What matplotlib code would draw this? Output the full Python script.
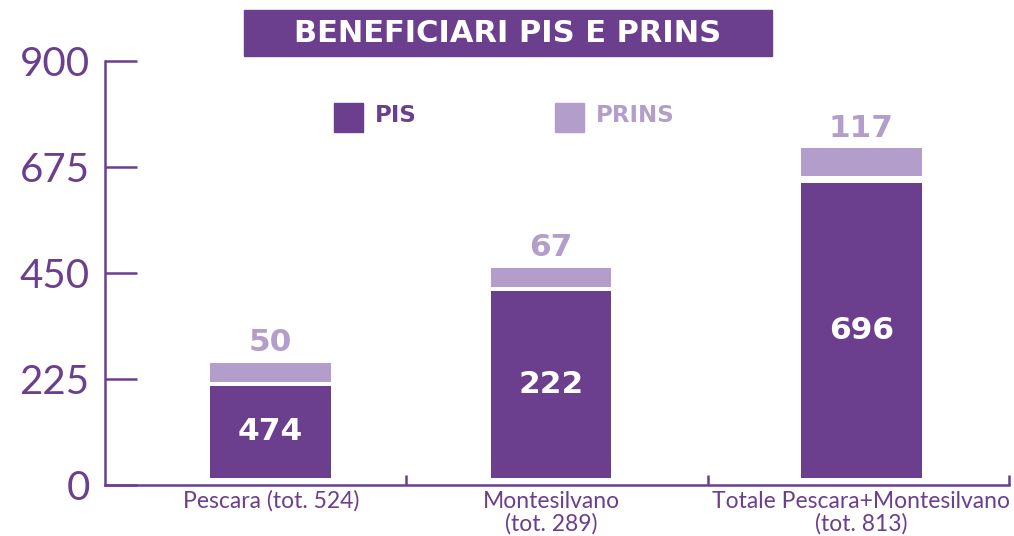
import matplotlib
matplotlib.use('Agg')
import matplotlib.pyplot as plt
from matplotlib.patches import Rectangle

# categories and printed labels
categories = ['Pescara (tot. 524)', 'Montesilvano\n(tot. 289)', 'Totale Pescara+Montesilvano\n(tot. 813)']
pis_labels = ['474', '222', '696']
prins_labels = ['50', '67', '117']

# bar extents as drawn in the picture (y axis units)
bar_base = [15, 15, 15]
pis_top = [210, 412, 641]
prins_base = [219, 420, 656]
prins_top = [259, 461, 715]

yticks = [0, 225, 450, 675, 900]

DARK = '#6c3f8e'
LIGHT = '#b29dcb'
LIGHTFONT = 'Lato'
BOLDFONT = 'DejaVu Sans'

W, H = 1014, 536
fig = plt.figure(figsize=(W / 100, H / 100), dpi=100)

def px(x0, y0, x1, y1):
    # pixel box (top-left origin) -> figure fraction rect
    return [x0 / W, 1 - y1 / H, (x1 - x0) / W, (y1 - y0) / H]

ax = fig.add_axes(px(105, 61, 1009, 485))
xpos = [0.55, 1.48, 2.51]
width = 0.40

pis_h = [t - b for t, b in zip(pis_top, bar_base)]
prins_h = [t - b for t, b in zip(prins_top, prins_base)]
ax.bar(xpos, pis_h, width, bottom=bar_base, color=DARK, linewidth=0)
ax.bar(xpos, prins_h, width, bottom=prins_base, color=LIGHT, linewidth=0)

for x, b, t, lab in zip(xpos, bar_base, pis_top, pis_labels):
    ax.text(x, (b + t) / 2, lab, ha='center', va='center', color='white',
            fontsize=22.5, fontweight='heavy', family=BOLDFONT)
for x, t, lab in zip(xpos, prins_top, prins_labels):
    ax.text(x, t + 12, lab, ha='center', va='bottom', color=LIGHT,
            fontsize=22.5, fontweight='heavy', family=BOLDFONT)

ax.set_xlim(0, 3)
ax.set_ylim(0, 900)
ax.set_yticks(yticks)
ax.set_yticklabels([str(v) for v in yticks], fontsize=29, color=DARK, family=LIGHTFONT)
ax.tick_params(axis='y', direction='in', length=23, width=1.8, color=DARK, pad=11)
ax.set_xticks(xpos)
ax.set_xticklabels(categories, fontsize=16.5, color=DARK, family=LIGHTFONT, linespacing=1.1)
ax.tick_params(axis='x', which='major', length=0, pad=4)
ax.set_xticks([1, 2, 3], minor=True)
ax.tick_params(axis='x', which='minor', direction='in', length=7, width=1.8, color=DARK)

for s in ['top', 'right']:
    ax.spines[s].set_visible(False)
for s in ['left', 'bottom']:
    ax.spines[s].set_color(DARK)
    ax.spines[s].set_linewidth(1.8)

# title box
fig.patches.append(Rectangle((244 / W, 1 - 56 / H), (772 - 244) / W, 46 / H,
                             transform=fig.transFigure, color=DARK, zorder=0))
fig.text(508 / W, 1 - 33 / H, 'BENEFICIARI PIS E PRINS', ha='center', va='center',
         color='white', fontsize=22, fontweight='heavy', family=BOLDFONT)

# legend
for x0, lab, col in [(334, 'PIS', DARK), (555, 'PRINS', LIGHT)]:
    fig.patches.append(Rectangle((x0 / W, 1 - 132 / H), 29 / W, 29 / H,
                                 transform=fig.transFigure, color=col))
    fig.text((x0 + 41) / W, 1 - 116 / H, lab, ha='left', va='center',
             color=col, fontsize=16.5, fontweight='heavy', family=BOLDFONT)

fig.savefig('out.png', dpi=100)
